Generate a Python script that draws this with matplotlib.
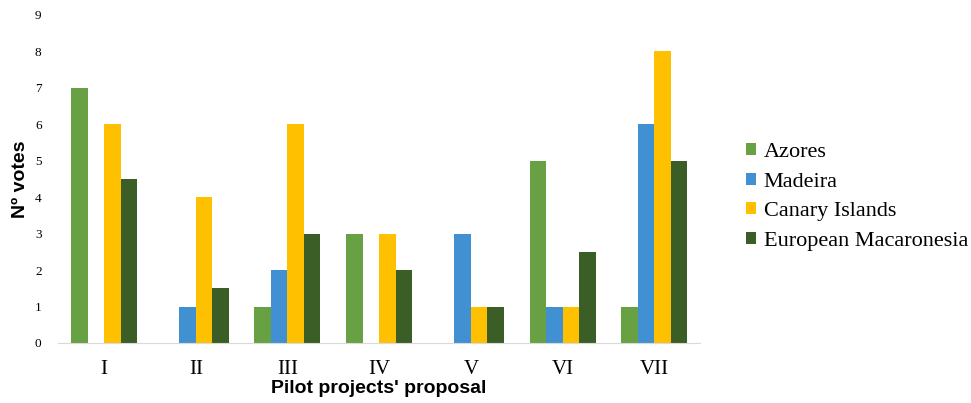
import numpy as np
import matplotlib
matplotlib.use("Agg")
import matplotlib.pyplot as plt

# Votes per pilot project proposal, by region
proposals = ["I", "II", "III", "IV", "V", "VI", "VII"]
azores = [7, 0, 1, 3, 0, 5, 1]
madeira = [0, 1, 2, 0, 3, 1, 6]
canary = [6, 4, 6, 3, 1, 1, 8]
macaronesia = [4.5, 1.5, 3, 2, 1, 2.5, 5]

series = [
    ("Azores", azores, "#68A143"),
    ("Madeira", madeira, "#4190D2"),
    ("Canary Islands", canary, "#FFC000"),
    ("European Macaronesia", macaronesia, "#3B5E26"),
]

fig = plt.figure(figsize=(9.71, 4.03), dpi=100)
ax = fig.add_axes([0.060, 0.149, 0.661, 0.814])

x = np.arange(len(proposals))
width = 0.18
for i, (name, vals, color) in enumerate(series):
    ax.bar(x + (i - 1.5) * width, vals, width, color=color, label=name)

ax.set_xlim(-0.5, len(proposals) - 0.5)
ax.set_ylim(0, 9)
ax.set_yticks(range(0, 10))
ax.set_xticks(x)
ax.set_xticklabels(proposals, family="Liberation Serif", fontsize=15)
for lbl in ax.get_yticklabels():
    lbl.set_family("Liberation Serif")
    lbl.set_fontsize(9.5)
ax.tick_params(length=0)
ax.tick_params(axis="x", pad=12)
ax.tick_params(axis="y", pad=12)

for side in ["top", "right", "left"]:
    ax.spines[side].set_visible(False)
ax.spines["bottom"].set_color("#D9D9D9")

ax.set_ylabel("Nº votes", family="Liberation Sans", fontweight="bold", fontsize=14, labelpad=4)
ax.set_xlabel("Pilot projects' proposal", family="Liberation Sans", fontweight="bold",
              fontsize=14, labelpad=1)

ax.legend(loc="center left", bbox_to_anchor=(1.04, 0.445), frameon=False,
          prop={"family": "Liberation Serif", "size": 16},
          handlelength=0.45, handleheight=0.45, handletextpad=0.35, labelspacing=0.48)

fig.savefig("out.png", dpi=100)
